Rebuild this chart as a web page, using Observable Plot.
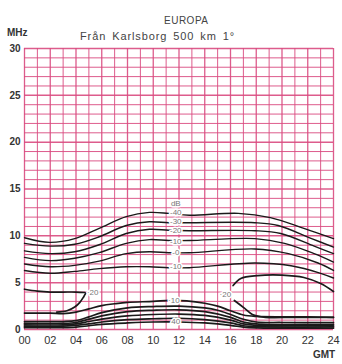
<!DOCTYPE html>
<html><head><meta charset="utf-8">
<script src="https://cdn.jsdelivr.net/npm/d3@7"></script>
<script src="https://cdn.jsdelivr.net/npm/@observablehq/plot@0.6"></script>
<style>
body{margin:0;background:#fff;}
#wrap{position:relative;width:342px;height:364px;font-family:"Liberation Sans",Arial,sans-serif;color:#333;}
.t{position:absolute;white-space:nowrap;}
</style></head>
<body><div id="wrap"></div>
<script>
// hours (GMT) and frequency (MHz)
const xTicks = [0,2,4,6,8,10,12,14,16,18,20,22,24];
const xTickLabels = ["00","02","04","06","08","10","12","14","16","18","20","22","24"];
const yTicks = [0,5,10,15,20,25,30];

// upper contours (dB)
const c40 = [[0,9.8],[1.95,9.3],[3.9,9.7],[5.8,10.8],[7.9,12.05],[9.7,12.5],[11.2,12.4],[12.8,12.2],[16.6,12.4],[19.1,11.95],[21.7,10.8],[24,9.7]];
const c30 = [[0,9.2],[2,8.9],[3.9,9.1],[5.8,9.9],[7.9,11.1],[9.7,11.5],[11.2,11.4],[12.8,11.4],[17.9,11.4],[19.7,11.1],[22.3,9.7],[24,8.8]];
const c20 = [[0,8.4],[2,8.1],[3.9,8.3],[5.8,9.05],[7.9,10.25],[9.7,10.7],[11.2,10.6],[12.8,10.55],[17.9,10.55],[19.9,10.25],[22.5,8.9],[24,8.1]];
const c10 = [[0,7.7],[2,7.35],[3.9,7.6],[5.8,8.2],[7.9,9.2],[9.7,9.6],[11.2,9.5],[12.8,9.5],[17.9,9.7],[20.2,9.2],[22.5,8.1],[24,7.2]];
const c0 = [[0,7.0],[2,6.7],[3.9,6.85],[5.8,7.3],[7.9,8.1],[9.7,8.3],[11.2,8.2],[12.8,8.2],[17.9,8.6],[20.5,8.1],[22.8,7.1],[24,6.3]];
const cm10 = [[0,6.3],[2,6.0],[3.9,6.2],[5.8,6.5],[7.9,6.7],[9.7,6.7],[11.2,6.6],[12.8,6.6],[17.9,7.1],[20.7,6.8],[23,6.0],[24,5.5]];

// +20 loops
const loopLeftUp = [[0,4.3],[1,4.1],[2,4.0],[3,4.0],[4,4.0],[4.7,3.95]];
const loopLeftLow = [[2.5,1.85],[3.3,2.0],[3.9,2.4],[4.3,2.9],[4.6,3.5],[4.75,3.85]];
const loopRightUp = [[16.2,4.7],[16.8,5.45],[18.1,5.75],[20,5.8],[21.7,5.55],[23,4.9],[24,4.05]];
const loopRightLow = [[16.3,3.1],[17.1,2.25],[17.7,1.6],[18.7,1.3],[21,1.3],[24,1.3]];

// lower contours
const l10 = [[0,1.75],[2,1.75],[3,1.7],[4,1.85],[5,2.2],[6,2.55],[7,2.75],[8,2.9],[10,3.0],[11.3,3.1],[12.6,3.05],[14,2.8],[15,2.5],[16,2.0],[17,1.55],[18,1.4],[20,1.35],[22,1.35],[24,1.3]];
const l20 = [[0,0.85],[3,0.85],[4,0.95],[5,1.35],[6,1.8],[8,2.3],[10,2.45],[12,2.5],[14,2.3],[15,2.05],[16,1.6],[17,1.1],[18,0.8],[20,0.75],[24,0.75]];
const l30 = [[0,0.65],[3,0.65],[4,0.75],[5,1.1],[6,1.45],[8,1.9],[10,2.05],[12,2.1],[14,1.9],[16,1.3],[17,0.8],[18,0.6],[24,0.55]];
const l40 = [[0,0.5],[3,0.5],[4,0.6],[5,0.85],[6,1.1],[8,1.45],[10,1.6],[12,1.65],[14,1.5],[16,1.0],[17,0.6],[18,0.45],[24,0.4]];
const l50 = [[0,0.35],[3,0.35],[4,0.45],[5,0.6],[6,0.8],[8,1.05],[10,1.15],[12,1.2],[14,1.05],[16,0.7],[17,0.4],[18,0.3],[24,0.28]];
const l60 = [[0,0.2],[3,0.2],[4,0.25],[5,0.4],[6,0.55],[8,0.7],[10,0.8],[12,0.8],[14,0.7],[16,0.45],[17,0.25],[18,0.18],[24,0.15]];

// labels
const labelText = ["dB","-40","-30","-20","-10","-0","-10","·20","·20","·10","40"];
const labelX =    [11.75,11.75,11.75,11.75,11.75,11.75,11.75,5.3,15.6,11.6,11.75];
const labelY =    [13.5,12.55,11.5,10.6,9.45,8.2,6.75,4.0,3.75,3.1,0.85];

const curves = {c40,c30,c20,c10,c0,cm10,loopLeftUp,loopLeftLow,loopRightUp,loopRightLow,l10,l20,l30,l40,l50,l60};
const lineData = Object.entries(curves).flatMap(([k,pts]) => pts.map(([h,f]) => ({k,h,f})));
const labels = labelText.map((t,i)=>({t,h:labelX[i],f:labelY[i]}));

const hourGrid = d3.range(0,25,1);
const mhzGrid = d3.range(0,31,1);
const pink = "#d94a80";

const plot = Plot.plot({
  width: 342, height: 364,
  marginLeft: 24, marginRight: 9, marginTop: 48, marginBottom: 35,
  style: {fontFamily: "'Liberation Sans', Arial, sans-serif", background: "transparent"},
  x: {domain: [0,24], label: null},
  y: {domain: [0,30], label: null},
  marks: [
    Plot.ruleX(hourGrid, {stroke: pink, strokeWidth: d => d % 2 === 0 ? 1.3 : 1.0, strokeOpacity: 0.9}),
    Plot.ruleY(mhzGrid, {stroke: pink, strokeWidth: d => d % 5 === 0 ? 1.5 : 1.0, strokeOpacity: 0.9}),
    Plot.line(lineData, {x: "h", y: "f", z: "k", curve: "catmull-rom", stroke: "#1a1a1a", strokeWidth: d => d.k.startsWith("l") ? 1.7 : 1.4}),
    Plot.text(labels, {x: "h", y: "f", text: "t", fontSize: 8, fill: "#777", stroke: "white", strokeWidth: 3, paintOrder: "stroke"}),
    Plot.axisX({ticks: xTicks, tickFormat: d => xTickLabels[xTicks.indexOf(d)], tickSize: 0, tickPadding: 7, fontSize: 11, fill: "#333", label: null}),
    Plot.axisY({ticks: yTicks, tickSize: 0, tickPadding: 4, fontSize: 10, fill: "#333", fontWeight: "bold", label: null})
  ]
});
const wrap = document.getElementById("wrap");
wrap.appendChild(plot);
function addText(txt, left, top, size, extra){
  const s = document.createElement("div");
  s.className = "t"; s.textContent = txt;
  s.style.left = left + "px"; s.style.top = top + "px"; s.style.fontSize = size + "px";
  if (extra) Object.assign(s.style, extra);
  wrap.appendChild(s);
}
addText("EUROPA", 164, 15, 10, {color:"#444", letterSpacing:"0.5px"});
addText("MHz", 7, 27, 10, {fontWeight:"bold", color:"#333"});
addText("Från Karlsborg  500 km  1°", 80, 30, 11, {color:"#444", letterSpacing:"0.9px", wordSpacing:"2px"});
addText("GMT", 313, 349, 10, {fontWeight:"bold", color:"#333"});
</script></body></html>
